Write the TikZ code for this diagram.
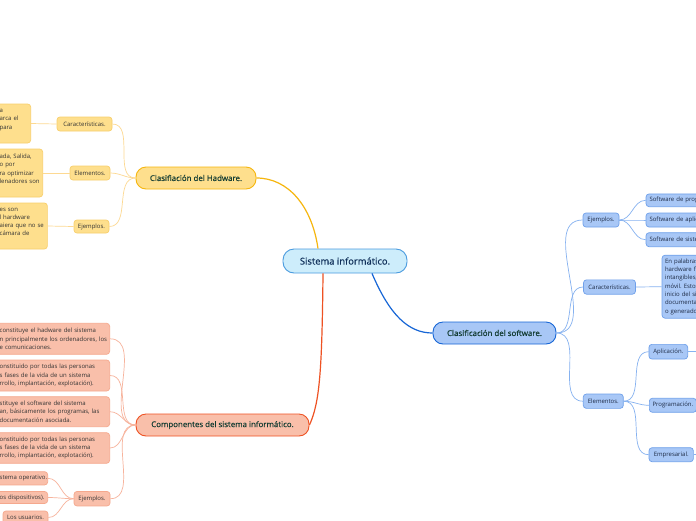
\documentclass[tikz,border=0pt]{standalone}
\usepackage{fontspec}
\setmainfont{Open Sans}
\newfontfamily\medfont[FakeBold=0.5]{Open Sans}
\frenchspacing
\definecolor{sysfill}{HTML}{CDEDFB}
\definecolor{sysline}{HTML}{4A9BDF}
\definecolor{systext}{HTML}{10305A}
\definecolor{hwfill}{HTML}{FEDF8D}
\definecolor{hwline}{HTML}{F6B60E}
\definecolor{hwcl}{HTML}{F8CF6C}
\definecolor{hwconn}{HTML}{FDD992}
\definecolor{cpfill}{HTML}{F9BFAA}
\definecolor{cpline}{HTML}{EE5223}
\definecolor{cpcl}{HTML}{F5A88D}
\definecolor{cpconn}{HTML}{F7B39C}
\definecolor{swfill}{HTML}{A8C7F6}
\definecolor{swline}{HTML}{1766D6}
\definecolor{swcl}{HTML}{6FA0EA}
\definecolor{swconn}{HTML}{86B2F0}
\definecolor{maintext}{HTML}{143D33}
\definecolor{txt}{HTML}{333333}
\definecolor{swtxt}{HTML}{1E2B45}
\tikzset{
  smallfont/.style={font=\frenchspacing\fontsize{6.0}{8.3}\selectfont},
  mainbox/.style={draw, rounded corners=10pt, line width=0.9pt, inner sep=0pt,
    font=\medfont\fontsize{7.9}{9}\selectfont, text=maintext},
  kid/.style={draw, rounded corners=3pt, line width=0.7pt, inner sep=0pt, smallfont},
  hwkid/.style={kid, draw=hwcl, fill=hwfill, text=txt},
  cpkid/.style={kid, draw=cpcl, fill=cpfill, text=txt},
  swkid/.style={kid, draw=swcl, fill=swfill, text=swtxt},
  para/.style={align=left, inner xsep=3pt, inner ysep=0pt, anchor=east},
  hwc/.style={draw=hwconn, line width=0.7pt},
  cpc/.style={draw=cpconn, line width=0.7pt},
  swc/.style={draw=swconn, line width=0.7pt},
}
\begin{document}
\begin{tikzpicture}[x=1pt,y=-1pt]
\useasboundingbox (0,0) rectangle (696,520);
\clip (0,0) rectangle (696,520);
\fill[white] (0,0) rectangle (696,520);

% central
\node[draw=sysline, fill=sysfill, rounded corners=11pt, line width=0.9pt, inner sep=0pt,
  minimum width=124pt, minimum height=24pt, font=\medfont\fontsize{9.4}{10}\selectfont, text=systext]
  (sys) at (345,261) {Sistema informático.};

% main branches
\node[mainbox, draw=hwline, fill=hwfill, minimum width=120pt, minimum height=22pt] (hw) at (196,178) {Clasifiación del Hadware.};
\node[mainbox, draw=cpline, fill=cpfill, minimum width=173pt, minimum height=22pt] (comp) at (222.5,425) {Componentes del sistema informático.};
\node[mainbox, draw=swline, fill=swfill, minimum width=123pt, minimum height=22pt] (sw) at (494.5,333) {Clasificación del software.};

\draw[draw=hwline, line width=1.2pt] ([xshift=-27pt]sys.north) .. controls +(-6,-42) and +(32,0) .. (hw.east);
\draw[draw=cpline, line width=1.2pt] ([xshift=-22pt]sys.south) .. controls +(-1,100) and +(10,-22) .. (comp.east);
\draw[draw=swline, line width=1.2pt] ([xshift=27pt]sys.south) .. controls +(18,42) and +(-24,0) .. (sw.west);

% hardware children
\node[hwkid, minimum width=55pt, minimum height=14pt] (hwcar) at (84.5,124) {Características.};
\node[hwkid, minimum width=40pt, minimum height=14pt] (hwele) at (90,173) {Elementos.};
\node[hwkid, minimum width=35pt, minimum height=13pt] (hwej) at (91.5,226.5) {Ejemplos.};
\foreach \k in {hwcar,hwele,hwej} \draw[hwc] (hw.west) to[out=180,in=0] (\k.east);

\node[hwkid, para, text width=28pt, minimum height=39pt] (hwcart) at (31,123.5)
  {\mbox{a}\\\mbox{arca el}\\\mbox{para}\\\mbox{}};
\node[hwkid, para, text width=40pt, minimum height=48pt] (hwelet) at (43,173)
  {\mbox{ada, Salida,}\\\mbox{o por}\\\mbox{ra optimizar}\\\mbox{lenadores son}\\\mbox{}};
\node[hwkid, para, text width=44.7pt, minimum height=46pt] (hwejt) at (47.7,226)
  {\mbox{es son}\\\mbox{l hardware}\\\mbox{aiera que no se}\\\mbox{cámara de}\\\mbox{}};
\draw[hwc] (hwcar.west) -- (hwcart.east);
\draw[hwc] (hwele.west) -- (hwelet.east);
\draw[hwc] (hwej.west) -- (hwejt.east);

% components children
\node[cpkid, para, text width=107pt, minimum height=31pt] (cpa) at (110,338.8)
  {\mbox{constituye el hadware del sistema}\\\mbox{n principalmente los ordenadores, los}\\\mbox{e comunicaciones.}};
\node[cpkid, para, text width=107pt, minimum height=31pt] (cpb) at (110,375.5)
  {\mbox{onstituido por todas las personas}\\\mbox{s fases de la vida de un sistema}\\\mbox{rrollo, implantación, explotación).}};
\node[cpkid, para, text width=107pt, minimum height=30pt] (cpc) at (110,411.7)
  {\mbox{stituye el software del sistema}\\\mbox{an, básicamente los programas, las}\\\mbox{documentación asociada.}};
\node[cpkid, para, text width=107pt, minimum height=30.6pt] (cpd) at (110,448)
  {\mbox{onstituido por todas las personas}\\\mbox{s fases de la vida de un sistema}\\\mbox{rrollo, implantación, explotación).}};
\node[cpkid, minimum width=36pt, minimum height=14.5pt] (cpej) at (92,498.7) {Ejemplos.};
\foreach \k in {cpa,cpb,cpc,cpd,cpej} \draw[cpc] (comp.west) to[out=180,in=0] (\k.east);

\node[cpkid, para, text width=45pt, minimum height=13.3pt] (cpe1) at (48,478.3) {\mbox{stema operativo.}};
\node[cpkid, para, text width=45pt, minimum height=12pt] (cpe2) at (48,497.5) {\mbox{os dispositivos).}};
\node[cpkid, minimum width=45pt, minimum height=13pt] (cpe3) at (25.5,517.5) {Los usuarios.};
\foreach \k in {cpe1,cpe2,cpe3} \draw[cpc] (cpej.west) to[out=180,in=0] (\k.east);

% software children
\node[swkid, minimum width=36pt, minimum height=14pt] (swej) at (601,220) {Ejemplos.};
\node[swkid, minimum width=52pt, minimum height=14.3pt] (swcar) at (609.5,287) {Características.};
\node[swkid, minimum width=40pt, minimum height=14.3pt] (swele) at (603.3,401.2) {Elementos.};
\foreach \k in {swej,swcar,swele} \draw[swc] (sw.east) to[out=0,in=180] (\k.west);

\node[swkid, anchor=west, align=left, inner xsep=3.5pt, text width=70pt, minimum height=12.7pt] (swe1) at (645.7,200.3) {\mbox{Software de programación.}};
\node[swkid, anchor=west, align=left, inner xsep=3.5pt, text width=70pt, minimum height=14pt] (swe2) at (645.7,220) {\mbox{Software de aplicación.}};
\node[swkid, anchor=west, align=left, inner xsep=3.5pt, text width=70pt, minimum height=14pt] (swe3) at (645.7,239.7) {\mbox{Software de sistema.}};
\foreach \k in {swe1,swe2,swe3} \draw[swc] (swej.east) to[out=0,in=180] (\k.west);

\node[swkid, anchor=west, align=left, inner xsep=3pt, text width=60pt, minimum height=63pt] (swcart) at (661.7,286.7)
  {\mbox{En palabras}\\\mbox{hardware físico}\\\mbox{intangibles,}\\\mbox{móvil. Estos}\\\mbox{inicio del sistema}\\\mbox{documentación}\\\mbox{o generados}};
\draw[swc] (swcar.east) -- (swcart.west);

\node[swkid, minimum width=38.7pt, minimum height=14.7pt] (swapl) at (668.3,351.7) {Aplicación.};
\node[swkid, anchor=west, minimum width=47pt, minimum height=14pt] (swprog) at (649,405.3) {Programación.};
\node[swkid, minimum width=44.3pt, minimum height=14pt] (swemp) at (671.2,454.7) {Empresarial.};
\foreach \k in {swapl,swprog,swemp} \draw[swc] (swele.east) to[out=0,in=180] (\k.west);
\coordinate (aplend) at (700,351.7);
\coordinate (empend) at (700,454.7);
\draw[swc] (swapl.east) -- (aplend);
\draw[swc] (swemp.east) -- (empend);
\end{tikzpicture}
\end{document}
